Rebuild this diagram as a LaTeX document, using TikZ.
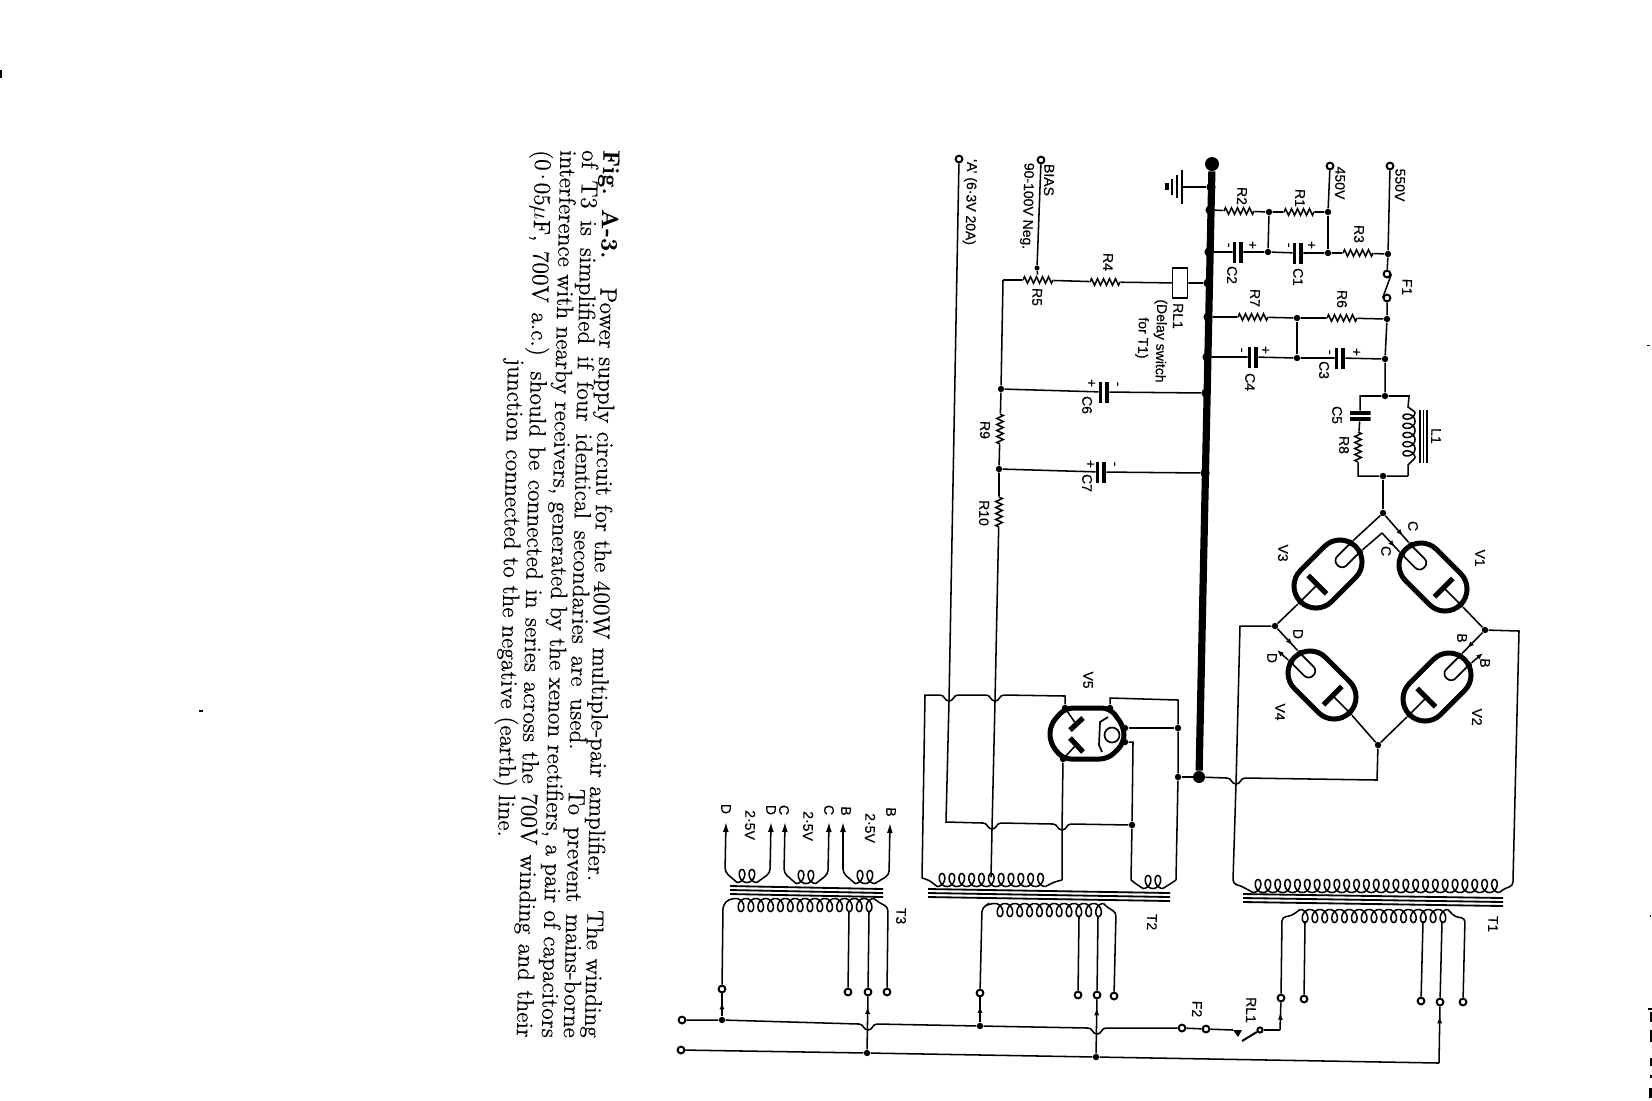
\documentclass[tikz,border=0pt]{standalone}
\usepackage{fontspec}
\setsansfont[FakeBold=0.3]{Liberation Sans}
\newfontfamily\capfont[FakeBold=0.3]{Latin Modern Roman}
\usepackage{tikz}
\usetikzlibrary{arrows.meta,decorations.pathmorphing,decorations.markings}
\tikzstyle{wire} = [line width=0.27mm]
\tikzstyle{busbar} = [line width=3.6pt]
\tikzstyle{dot} = [circle, fill=black, minimum size=3.2pt, inner sep=0pt]
\tikzstyle{busdot} = [circle, fill=black, minimum size=4.6pt, inner sep=0pt]
\tikzstyle{terminal} = [circle, draw, fill=white, line width=0.35mm, minimum size=3.4pt, inner sep=0pt]
\tikzstyle{lab} = [font=\sffamily\fontsize{7}{7}\selectfont, rotate=-91.2, inner sep=0pt]
\tikzstyle{capline} = [font=\capfont\fontsize{11.8}{12}\selectfont, rotate=-91.2, inner sep=0pt]
\tikzstyle{resh} = [minimum width=15pt, minimum height=5pt, inner sep=0pt, path picture={\draw [wire, decorate, decoration={zigzag, amplitude=1.6pt, segment length=3pt}] (path picture bounding box.west) -- (path picture bounding box.east);}]
\tikzstyle{resv} = [minimum width=5pt, minimum height=15pt, inner sep=0pt, path picture={\draw [wire, decorate, decoration={zigzag, amplitude=1.6pt, segment length=3pt}] (path picture bounding box.north) -- (path picture bounding box.south);}]
\tikzstyle{caph} = [minimum width=5pt, minimum height=10.5pt, inner sep=0pt, path picture={\fill (path picture bounding box.south west) rectangle ([xshift=1.6pt]path picture bounding box.north west); \fill (path picture bounding box.south east) rectangle ([xshift=-2pt]path picture bounding box.north east);}]
\tikzstyle{capv} = [minimum width=10.5pt, minimum height=5pt, inner sep=0pt, path picture={\fill (path picture bounding box.north west) rectangle ([yshift=-1.9pt]path picture bounding box.north east); \fill (path picture bounding box.south west) rectangle ([yshift=1.9pt]path picture bounding box.south east);}]
\tikzset{midarrow/.style={postaction={decorate}, decoration={markings, mark=at position #1 with {\arrow{Latex[length=3.4pt,width=2.6pt]}}}}}
\newcommand{\dip}[1]{-- ([xshift=-4.5pt]#1) .. controls ([xshift=-2pt]#1) and ([xshift=-2.5pt,yshift=-3pt]#1) .. ([yshift=-3pt]#1) .. controls ([xshift=2.5pt,yshift=-3pt]#1) and ([xshift=2pt]#1) .. ([xshift=4.5pt]#1)}
\newcommand{\windingup}[4]{
    \draw [wire] plot [domain=0:360*#4, samples=24*#4+1] ({#2-4.9+\x/360*9.85+5*sin(\x)}, {#3+6.5*cos(\x)});
    \coordinate (#1l) at (#2-4.9,#3+6.5);
    \coordinate (#1r) at (#2-4.9+9.85*#4,#3+6.5);
}
\newcommand{\windingdown}[4]{
    \draw [wire] plot [domain=0:360*#4, samples=24*#4+1] ({#2-4.9+\x/360*9.85+5*sin(\x)}, {#3-6.5*cos(\x)});
    \coordinate (#1l) at (#2-4.9,#3-6.5);
    \coordinate (#1r) at (#2-4.9+9.85*#4,#3-6.5);
}
\newcommand{\corelines}[4]{
    \foreach \d in {0,4,8}
        \draw [line width=0.32mm] (#1,#2+\d) -- (#3,#4+\d);
}
\newcommand{\rectifier}[4]{
    \begin{scope}[shift={(#2,#3)}, rotate=#4]
        \draw [line width=2.5pt, rounded corners=11pt] (-39,-22) rectangle (39,22);
        \draw [line width=2.6pt] (15,-13) -- (15,13);
        \draw [wire] (15,0) -- (39,0);
        \draw [line width=0.3mm, rounded corners=3pt] (-36,-7) -- (-13,-7) -- (-13,6) -- (-36,6);
        \node (#1a) [dot] at (39,0) {};
        \node (#1p) [dot] at (-38,-7) {};
        \node (#1q) [dot] at (-38,6) {};
    \end{scope}
}
\begin{document}
\begin{tikzpicture}[x=0.5pt, y=-0.5pt]
    \useasboundingbox (0,0) rectangle (1652,1100);

    \node (cap1) [capline] at (600,594) {\makebox[444pt][s]{\textbf{Fig. A-3.}\hspace{0.7em} Power supply circuit for the 400W multiple-pair amplifier.\hspace{0.7em} The winding}};
    \node (cap2) [capline] at (579,594) {\makebox[444pt][s]{of T3 is simplified if four identical secondaries are used.\hspace{0.7em} To prevent mains-borne}};
    \node (cap3) [capline] at (557,594) {\makebox[444pt][s]{interference with nearby receivers, generated by the xenon rectifiers, a pair of capacitors}};
    \node (cap4) [capline] at (532,594) {\makebox[444pt][s]{(0\kern-1.5pt·\kern-1.5pt05$\mu$F, 700V a.c.) should be connected in series across the 700V winding and their}};
    \node (cap5) [capline] at (509,598) {junction connected to the negative (earth) line.};

    \node (top) [dot, minimum size=7pt] at (1212,164) {};
    \node (bot) [dot, minimum size=6pt] at (1199,777) {};
    \draw [busbar] (top) -- (bot);

    \node (bg) [busdot] at (1211,187) {};
    \node (b2) [busdot] at (1210,210) {};
    \node (b3) [busdot] at (1209,252) {};
    \node (b4) [busdot] at (1208,283) {};
    \node (b5) [busdot] at (1208,317) {};
    \node (b6) [busdot] at (1207,357) {};
    \node (b7) [busdot] at (1206,393) {};
    \node (b8) [busdot] at (1205,473) {};

    \coordinate (e1) at (1182,187);
    \draw [wire] (bg) -- (e1);
    \draw [line width=0.45mm] (1182,170) -- (1182,204);
    \draw [line width=0.45mm] (1177,175) -- (1177,198);
    \draw [line width=0.45mm] (1172,179) -- (1172,195);
    \draw [line width=0.6mm] (1167,183) -- (1167,190);

    \node (j12) [dot] at (1269,212) {};
    \node (j450) [dot] at (1328,212) {};
    \node (j2) [dot] at (1268,252) {};
    \node (j1) [dot] at (1328,253) {};
    \node (j3) [dot] at (1388,254) {};
    \node (t450) [terminal] at (1330,166) {};
    \node (t550) [terminal] at (1390,166) {};
    \node (r2) [resh] at (1239,211) {};
    \node (r1) [resh] at (1299,212) {};
    \node (r3) [resh] at (1358,253) {};
    \node (c2) [caph] at (1238,252) {};
    \node (c1) [caph] at (1298,253) {};
    \draw [wire] (b2) -- (r2) -- (j12) -- (r1) -- (j450) -- (t450);
    \draw [wire] (b3) -- (c2) -- (j2) -- (c1) -- (j1) -- (r3) -- (j3) -- (t550);
    \draw [wire] (j12) -- (j2);
    \draw [wire] (j450) -- (j1);

    \node (f1a) [terminal] at (1387,274) {};
    \node (f1b) [terminal] at (1387,298) {};
    \draw [wire] (j3) -- (f1a);
    \draw [wire] (f1a.east) -- (f1b.west);

    \node (j6) [dot] at (1387,319) {};
    \node (j7) [dot] at (1297,318) {};
    \node (j4) [dot] at (1297,358) {};
    \node (j5) [dot] at (1385,359) {};
    \node (j8) [dot] at (1385,396) {};
    \node (r7) [resh] at (1253,317) {};
    \node (r6) [resh] at (1342,318) {};
    \node (c4) [caph] at (1253,357) {};
    \node (c3) [caph] at (1340,358) {};
    \draw [wire] (b5) -- (r7) -- (j7) -- (r6) -- (j6);
    \draw [wire] (b6) -- (c4) -- (j4) -- (c3) -- (j5);
    \draw [wire] (j7) -- (j4);
    \draw [wire] (f1b) -- (j6) -- (j5) -- (j8);

    \node (c5) [capv] at (1360,416) {};
    \node (r8) [resv] at (1358,447) {};
    \node (j9) [dot] at (1383,476) {};
    \coordinate (l1a) at (1360,396);
    \coordinate (l1b) at (1358,476);
    \coordinate (l1c) at (1408,476);
    \coordinate (l1d) at (1409,396);
    \draw [wire] (j8) -- (l1a) -- (c5) -- (r8) -- (l1b) -- (j9) -- (l1c);
    \draw [wire] (j8) -- (l1d) -- (1408,407) -- (1415,412);
    \draw [wire] (l1c) -- (1408,465) -- (1415,458);
    \draw [wire] plot [domain=0:1800, samples=121] ({1409+6*cos(\x)}, {412+\x/360*9.2+4.6*sin(\x)});
    \draw [line width=0.32mm] (1420,410) -- (1420,463);
    \draw [line width=0.32mm] (1423.5,410) -- (1423.5,463);
    \draw [line width=0.32mm] (1427,410) -- (1427,463);

    \node (y) [dot] at (1383,513) {};
    \coordinate (yin) at (1382,533);
    \draw [wire] (j9) -- (y);

    \rectifier{v1}{1433}{577}{-45}
    \rectifier{v2}{1437}{687}{-135}
    \rectifier{v3}{1328}{574}{-135}
    \rectifier{v4}{1322}{685}{-45}

    \node (jb) [dot] at (1485,630) {};
    \node (jd) [dot] at (1275,626) {};
    \node (ja) [dot] at (1378,745) {};
    \coordinate (bout) at (1483,653);
    \coordinate (dout) at (1277,650);
    \draw [wire, midarrow=0.75] (y) -- (v1p);
    \draw [wire] (y) -- (v3q);
    \draw [wire] (v3p) -- (yin);
    \draw [wire, midarrow=0.75] (yin) -- (v1q);
    \draw [wire] (v1a) -- (jb);
    \draw [wire] (v3a) -- (jd);
    \draw [wire, midarrow=0.75] (jd) -- (v4p);
    \draw [wire, midarrow=0.75] (jb) -- (v2q);
    \draw [wire, -{Latex[length=3.4pt,width=2.6pt]}] (v4q) -- (dout);
    \draw [wire, -{Latex[length=3.4pt,width=2.6pt]}] (v2p) -- (bout);
    \draw [wire] (v4a) -- (ja);
    \draw [wire] (v2a) -- (ja);

    \node (jt) [dot] at (1178,777) {};
    \node (jh) [dot] at (1178,728) {};
    \coordinate (h1) at (1236,778);
    \draw [wire] (jt) -- (bot);
    \draw [wire] (bot) \dip{h1} -- (1377,780) -- (ja);
    \draw [wire] (jb) -- (1519,631) -- (1513,880);
    \draw [wire] (jd) -- (1240,626) -- ([yshift=-3pt]h1) -- (1233,880);

    \windingup{t1s}{1258}{886}{25}
    \corelines{1243}{894}{1503}{898}
    \draw [wire, rounded corners=2pt] (1233,880) -- (1233,884) -- (1239,885) -- (t1sl);
    \draw [wire, rounded corners=2pt] (1513,880) -- (1513,886) -- (1505,888) -- (t1sr);
    \windingdown{t1p}{1305}{916}{15}
    \node (k1) [terminal] at (1281,998) {};
    \node (k2) [terminal] at (1304,999) {};
    \node (k3) [terminal] at (1421,1001) {};
    \node (k4) [terminal] at (1440,1002) {};
    \node (k5) [terminal] at (1463,1002) {};
    \draw [wire, rounded corners=2pt] (k1) -- (1282,917) -- (1291,916) -- (t1pl);
    \draw [wire, rounded corners=2pt] (k5) -- (1465,918) -- (1455,917) -- (t1pr);
    \draw [wire] (k2) -- (1305,921);
    \draw [wire] (k3) -- (1423,921);
    \draw [wire] (k4) -- (1442,921);

    \node (rl1) [draw, wire, minimum width=7.5pt, minimum height=15pt, inner sep=0pt] at (1180,283) {};
    \node (r4) [resh] at (1105,282) {};
    \node (r5) [resh] at (1038,280) {};
    \coordinate (r5c) at (1003,280);
    \node (wip) [dot, minimum size=2.5pt] at (1037,268) {};
    \node (tbias) [terminal] at (1041,160) {};
    \node (ta) [terminal] at (959,159) {};
    \draw [wire] (b4) -- (rl1) -- (r4) -- (r5) -- (r5c);
    \draw [wire] (tbias) -- (wip) -- (r5);

    \node (j10) [dot] at (1001,389) {};
    \node (j11) [dot] at (999,469) {};
    \node (c6) [caph] at (1104,392) {};
    \node (c7) [caph] at (1101,472) {};
    \node (r9) [resv] at (1000,429) {};
    \node (r10) [resv] at (999,512) {};
    \draw [wire] (r5c) -- (j10) -- (r9) -- (j11) -- (r10);
    \draw [wire] (j10) -- (c6) -- (b7);
    \draw [wire] (j11) -- (c7) -- (b8);

    \coordinate (h2) at (949,695);
    \coordinate (h3) at (995,695);
    \coordinate (h4) at (992,823);
    \coordinate (h5) at (1062,824);
    \node (jr) [dot] at (1132,825) {};

    \draw [line width=2.5pt, rounded corners=4pt] (1065,708) -- (1110,708) -- (1124,727) -- (1124,743) -- (1108,759) -- (1063,759) -- (1050,743) -- (1050,725) -- cycle;
    \draw [line width=2.6pt] (1070,730) -- (1083,718);
    \draw [line width=2.6pt] (1070,738) -- (1083,752);
    \draw [wire] (1065,708) -- (1076,724);
    \draw [wire] (1063,759) -- (1076,745);
    \draw [line width=0.3mm] (1108,717) -- (1100,722) -- (1099,745) -- (1102,752);
    \node (v5k) [circle, draw, line width=0.3mm, minimum size=7.5pt, inner sep=0pt] at (1112,735) {};
    \node (v5a) [dot] at (1065,708) {};
    \node (v5b) [dot] at (1063,759) {};
    \node (v5c) [dot] at (1110,708) {};
    \node (v5d) [dot] at (1125,728) {};
    \node (v5e) [dot] at (1125,742) {};

    \draw [wire] (922,878) -- (925,695) \dip{h2} \dip{h3} -- (1065,696) -- (v5a);
    \draw [wire] (ta) -- ([yshift=-3pt]h2) -- (946,822) \dip{h4} \dip{h5} -- (jr);
    \draw [wire] (r10) -- ([yshift=-3pt]h3) -- ([yshift=-3pt]h4) -- (991,877);
    \draw [wire] (v5b) -- ([yshift=-3pt]h5) -- (1062,880);
    \draw [wire] (v5e) -- (1133,742) -- (jr) -- (1131,880);
    \draw [wire] (v5c) -- (1110,698) -- (1178,700) -- (jh) -- (jt) -- (1176,880);
    \draw [wire] (v5d) -- (jh);

    \windingup{t2s}{942}{880}{11}
    \windingup{t2h}{1148}{882}{2}
    \corelines{928}{889}{1170}{893}
    \draw [wire, rounded corners=2pt] (922,878) -- (929,880) -- (t2sl);
    \draw [wire, rounded corners=2pt] (1062,880) -- (1054,882) -- (t2sr);
    \draw [wire, rounded corners=2pt] (1131,880) -- (1136,884) -- (t2hl);
    \draw [wire, rounded corners=2pt] (1176,880) -- (1170,884) -- (t2hr);
    \windingdown{t2p}{1000}{910}{11}
    \node (p1) [terminal] at (980,993) {};
    \node (p2) [terminal] at (1078,995) {};
    \node (p3) [terminal] at (1097,995) {};
    \node (p4) [terminal] at (1114,996) {};
    \draw [wire, rounded corners=2pt] (p1) -- (982,908) -- (988,904) -- (t2pl);
    \draw [wire, rounded corners=2pt] (p4) -- (1116,912) -- (1108,908) -- (t2pr);
    \draw [wire] (p2) -- (1079,916);
    \draw [wire] (p3) -- (1098,916);

    \windingup{t3d}{742}{876}{2}
    \windingup{t3c}{801}{877}{2}
    \windingup{t3b}{860}{877}{2}
    \corelines{730}{886}{883}{889}
    \coordinate (d1) at (726,822);
    \coordinate (d2) at (771,822);
    \coordinate (c1a) at (785,822);
    \coordinate (c2a) at (829,822);
    \coordinate (b1a) at (843,822);
    \coordinate (b2a) at (890,823);
    \draw [wire, rounded corners=2pt, {Latex[length=5pt,width=3pt]}-] (d1) -- (725,872) -- (t3dl);
    \draw [wire, rounded corners=2pt, {Latex[length=5pt,width=3pt]}-] (d2) -- (770,873) -- (t3dr);
    \draw [wire, rounded corners=2pt, {Latex[length=5pt,width=3pt]}-] (c1a) -- (784,873) -- (t3cl);
    \draw [wire, rounded corners=2pt, {Latex[length=5pt,width=3pt]}-] (c2a) -- (828,874) -- (t3cr);
    \draw [wire, rounded corners=2pt, {Latex[length=5pt,width=3pt]}-] (b1a) -- (843,873) -- (t3bl);
    \draw [wire, rounded corners=2pt, {Latex[length=5pt,width=3pt]}-] (b2a) -- (889,875) -- (t3br);
    \windingdown{t3p}{741}{905}{14}
    \node (m1) [terminal] at (722,989) {};
    \node (m2) [terminal] at (848,992) {};
    \node (m3) [terminal] at (868,992) {};
    \node (m4) [terminal] at (887,992) {};
    \draw [wire, rounded corners=2pt] (m1) -- (723,905) -- (729,899) -- (t3pl);
    \draw [wire, rounded corners=2pt] (m4) -- (888,907) -- (878,902) -- (t3pr);
    \draw [wire] (m2) -- (849,911);
    \draw [wire] (m3) -- (869,911);

    \node (mt1) [terminal] at (682,1020) {};
    \node (mt2) [terminal] at (681,1050) {};
    \node (jm1) [dot] at (722,1020) {};
    \node (jm2) [dot] at (980,1026) {};
    \node (jm3) [dot] at (867,1053) {};
    \node (jm4) [dot] at (1096,1057) {};
    \node (f2a) [terminal] at (1182,1028) {};
    \node (f2b) [terminal] at (1206,1029) {};
    \node (sw) [terminal, minimum size=2.6pt] at (1260,1030) {};
    \coordinate (h6) at (868,1024);
    \coordinate (h7) at (1097,1028);
    \coordinate (rly) at (1233,1030);
    \coordinate (blade) at (1242,1041);
    \coordinate (k1b) at (1280,1030);
    \coordinate (k4b) at (1439,1063);
    \draw [wire] (mt1) -- (jm1) \dip{h6} -- (jm2) \dip{h7} -- (f2a) -- (f2b) -- (rly);
    \fill (rly) -- (1242,1030) -- (1238,1037) -- cycle;
    \draw [line width=0.35mm] (sw) -- (blade);
    \draw [wire] (sw) -- (k1b);
    \draw [wire, midarrow=0.62] (k1b) -- (k1);
    \draw [wire] (mt2) -- (jm3) -- (jm4) -- (k4b);
    \draw [wire, midarrow=0.82] (k4b) -- (k4);
    \draw [wire, midarrow=0.6] (jm1) -- (m1);
    \draw [wire, midarrow=0.65] (jm2) -- (p1);
    \draw [wire, midarrow=0.8] (jm3) -- (m3);
    \draw [wire, midarrow=0.83] (jm4) -- (p3);

    \node (la) [lab] at (970,202) {‘A’ (6·3V 20A)};
    \node (lbias) [lab] at (1049,180) {BIAS};
    \node (lneg) [lab] at (1027,206) {90-100V Neg.};
    \node (lr5) [lab] at (1037,297) {R5};
    \node (lr4) [lab] at (1108,262) {R4};
    \node (lrl) [lab] at (1178,316) {RL1};
    \node (ldel) [lab] at (1160,341) {(Delay switch};
    \node (lfor) [lab] at (1142,338) {for T1)};
    \node (lc6) [lab] at (1087,405) {C6};
    \node (lc6p) [lab] at (1091,383) {+};
    \node (lc6m) [lab] at (1116,384) {-};
    \node (lc7) [lab] at (1087,483) {C7};
    \node (lc7p) [lab] at (1090,464) {+};
    \node (lc7m) [lab] at (1113,464) {-};
    \node (lr9) [lab] at (985,430) {R9};
    \node (lr10) [lab] at (984,513) {R10};
    \node (lr2) [lab] at (1242,196) {R2};
    \node (lc2) [lab] at (1232,275) {C2};
    \node (lc2m) [lab] at (1227,245) {-};
    \node (lc2p) [lab] at (1252,245) {+};
    \node (lr7) [lab] at (1255,298) {R7};
    \node (lc4) [lab] at (1250,382) {C4};
    \node (lc4m) [lab] at (1240,350) {-};
    \node (lc4p) [lab] at (1265,350) {+};
    \node (lr1) [lab] at (1300,198) {R1};
    \node (lc1) [lab] at (1298,277) {C1};
    \node (lc1m) [lab] at (1287,245) {-};
    \node (lc1p) [lab] at (1311,245) {+};
    \node (lr3) [lab] at (1359,234) {R3};
    \node (l450) [lab] at (1340,183) {450V};
    \node (l550) [lab] at (1400,185) {550V};
    \node (lr6) [lab] at (1342,299) {R6};
    \node (lc3) [lab] at (1324,370) {C3};
    \node (lc3m) [lab] at (1328,352) {-};
    \node (lc3p) [lab] at (1356,352) {+};
    \node (lc5) [lab] at (1337,415) {C5};
    \node (lr8) [lab] at (1344,445) {R8};
    \node (ll1) [lab] at (1436,436) {L1};
    \node (lf1) [lab] at (1407,287) {F1};
    \node (lc1a) [lab] at (1413,526) {C};
    \node (lc1b) [lab] at (1386,551) {C};
    \node (ld1) [lab] at (1298,634) {D};
    \node (ld2) [lab] at (1272,658) {D};
    \node (lb1) [lab] at (1462,638) {B};
    \node (lb2) [lab] at (1485,663) {B};
    \node (lv1) [lab] at (1480,558) {V1};
    \node (lv2) [lab] at (1477,717) {V2};
    \node (lv3) [lab] at (1283,553) {V3};
    \node (lv4) [lab] at (1280,712) {V4};
    \node (lv5) [lab] at (1088,680) {V5};
    \node (lt1) [lab] at (1493,924) {T1};
    \node (lt2) [lab] at (1152,922) {T2};
    \node (lt3) [lab] at (901,916) {T3};
    \node (lf2) [lab] at (1197,1009) {F2};
    \node (lrl2) [lab] at (1251,1010) {RL1};
    \node (ld3) [lab] at (726,809) {D};
    \node (ld4) [lab] at (771,810) {D};
    \node (lc3a) [lab] at (784,810) {C};
    \node (lc3b) [lab] at (829,810) {C};
    \node (lb3) [lab] at (846,811) {B};
    \node (lb4) [lab] at (891,812) {B};
    \node (lv25a) [lab] at (750,825) {2·5V};
    \node (lv25b) [lab] at (808,826) {2·5V};
    \node (lv25c) [lab] at (870,828) {2·5V};

    \fill (0,70) rectangle (2,78);
    \fill (199,710) rectangle (203,712);
    \fill (1647,345) rectangle (1650,346);
    \fill (1650,915) rectangle (1651,917);
    \fill (1648,1008) rectangle (1652,1010);
    \fill (1650,1012) rectangle (1652,1022);
    \fill (1650,1030) rectangle (1652,1042);
    \fill (1650,1058) rectangle (1652,1066);
    \fill (1650,1075) rectangle (1652,1078);
    \fill (1649,1088) rectangle (1652,1098);
\end{tikzpicture}
\end{document}
